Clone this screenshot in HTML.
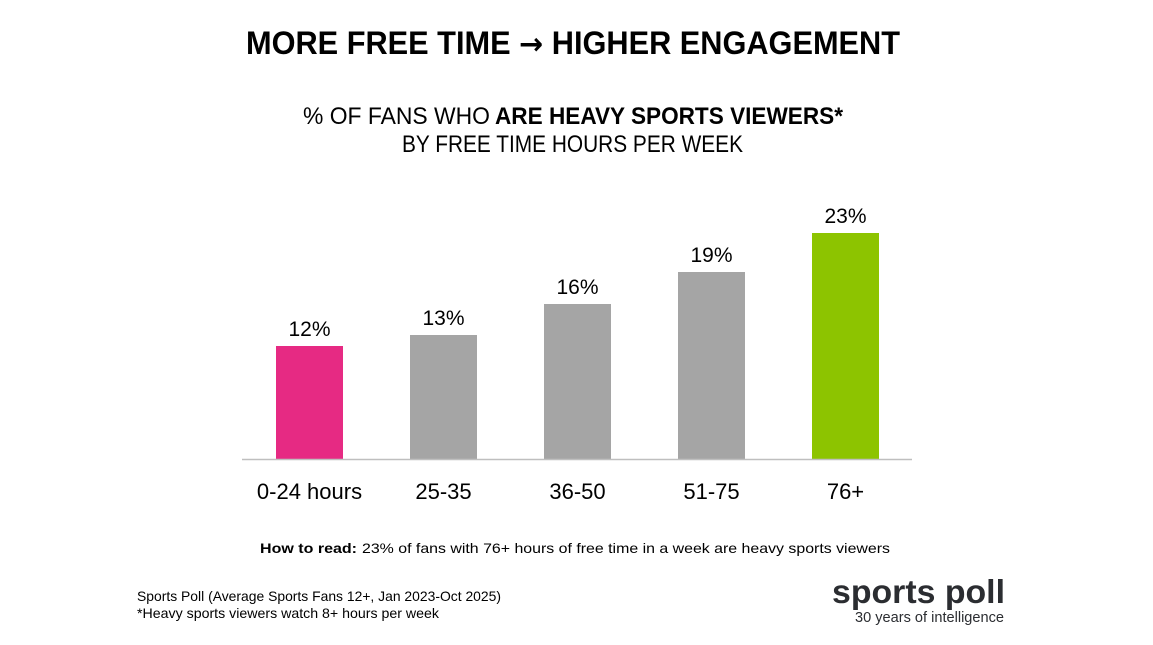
<!DOCTYPE html>
<html>
<head>
<meta charset="utf-8">
<style>
  html, body { margin:0; padding:0; background:#ffffff; }
  body { width:1153px; height:645px; overflow:hidden; }
  svg { display:block; }
  text { font-family: "Liberation Sans", "DejaVu Sans", sans-serif; }
</style>
</head>
<body>
<svg width="1153" height="645" viewBox="0 0 1153 645" xmlns="http://www.w3.org/2000/svg">
  <rect x="0" y="0" width="1153" height="645" fill="#ffffff"/>

  <!-- Title -->
  <text x="246" y="54" font-size="32" font-weight="bold" fill="#000" textLength="654" lengthAdjust="spacingAndGlyphs">MORE FREE TIME <tspan font-family="DejaVu Sans, sans-serif" font-size="30" font-weight="bold">→</tspan> HIGHER ENGAGEMENT</text>

  <!-- Subtitle -->
  <text x="303" y="124" font-size="24" fill="#000" textLength="187" lengthAdjust="spacingAndGlyphs">% OF FANS WHO</text>
  <text x="495" y="124" font-size="24" font-weight="bold" fill="#000" textLength="348" lengthAdjust="spacingAndGlyphs">ARE HEAVY SPORTS VIEWERS*</text>
  <text x="402" y="152" font-size="24" fill="#000" textLength="341" lengthAdjust="spacingAndGlyphs">BY FREE TIME HOURS PER WEEK</text>

  <!-- Bars -->
  <rect x="276" y="346" width="67" height="113" fill="#E62A83"/>
  <rect x="410" y="335" width="67" height="124" fill="#A5A5A5"/>
  <rect x="544" y="304" width="67" height="155" fill="#A5A5A5"/>
  <rect x="678" y="272" width="67" height="187" fill="#A5A5A5"/>
  <rect x="812" y="233" width="67" height="226" fill="#8DC400"/>

  <!-- Axis line -->
  <line x1="242" y1="459.5" x2="912" y2="459.5" stroke="#BFBFBF" stroke-width="1.5"/>

  <!-- Data labels -->
  <g font-size="21" fill="#000" text-anchor="middle">
    <text x="309.5" y="336">12%</text>
    <text x="443.5" y="325">13%</text>
    <text x="577.5" y="294">16%</text>
    <text x="711.5" y="262">19%</text>
    <text x="845.5" y="223">23%</text>
  </g>

  <!-- Category labels -->
  <g font-size="22" fill="#000" text-anchor="middle">
    <text x="309.5" y="499">0-24 hours</text>
    <text x="443.5" y="499">25-35</text>
    <text x="577.5" y="499">36-50</text>
    <text x="711.5" y="499">51-75</text>
    <text x="845.5" y="499">76+</text>
  </g>

  <!-- How to read -->
  <text x="260" y="553" font-size="14" font-weight="bold" fill="#000" textLength="97" lengthAdjust="spacingAndGlyphs">How to read:</text>
  <text x="362" y="553" font-size="14" fill="#000" textLength="528" lengthAdjust="spacingAndGlyphs">23% of fans with 76+ hours of free time in a week are heavy sports viewers</text>

  <!-- Footnotes -->
  <text x="137" y="601" font-size="14" fill="#000" textLength="364" lengthAdjust="spacingAndGlyphs">Sports Poll (Average Sports Fans 12+, Jan 2023-Oct 2025)</text>
  <text x="137" y="618" font-size="14" fill="#000" textLength="302" lengthAdjust="spacingAndGlyphs">*Heavy sports viewers watch 8+ hours per week</text>

  <!-- Logo -->
  <text x="832" y="603" font-size="33" font-weight="bold" fill="#2B2D31" textLength="173" lengthAdjust="spacingAndGlyphs">sports poll</text>
  <text x="855" y="622" font-size="14.5" fill="#2B2D31" textLength="149" lengthAdjust="spacingAndGlyphs">30 years of intelligence</text>
</svg>
</body>
</html>
